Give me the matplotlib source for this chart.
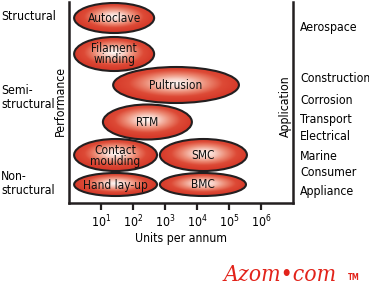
import numpy as np
import matplotlib
matplotlib.use("Agg")
import matplotlib.pyplot as plt
from matplotlib import font_manager
from matplotlib.patches import Ellipse
from matplotlib.colors import LinearSegmentedColormap

# pick a narrow sans if one is installed
narrow = None
for f in font_manager.fontManager.ttflist:
    if ('Narrow' in f.name or 'Condensed' in f.name or 'Narrow' in f.fname
            or 'Condensed' in f.fname) and 'Bold' not in f.fname and 'Oblique' not in f.fname \
            and 'Italic' not in f.fname:
        narrow = f
        break

if narrow is not None:
    base = narrow.name
    plt.rcParams['font.stretch'] = narrow.stretch
else:
    base = 'Liberation Sans'
plt.rcParams['font.family'] = [base, 'DejaVu Sans']
plt.rcParams['mathtext.fontset'] = 'custom'
plt.rcParams['mathtext.rm'] = base
plt.rcParams['mathtext.it'] = base

# processes: range of log10(units per annum), and performance row (screen units, top=0)
processes = ['Autoclave', 'Filament\nwinding', 'Pultrusion', 'RTM',
             'Contact\nmoulding', 'SMC', 'Hand lay-up', 'BMC']
log_lo = [0.16, 0.16, 1.38, 1.06, 0.16, 2.84, 0.16, 2.84]
log_hi = [2.66, 2.66, 5.31, 3.84, 2.75, 5.56, 2.75, 5.53]
row_y = [18, 54, 85, 122, 155, 155, 184.5, 184.5]
row_h = [30, 34, 36, 35, 32, 32, 23, 23]

perf_labels = ['Structural', 'Semi-\nstructural', 'Non-\nstructural']
perf_y = [17, 98, 183]
app_labels = ['Aerospace', 'Construction', 'Corrosion', 'Transport',
              'Electrical', 'Marine', 'Consumer', 'Appliance']
app_y = [28, 78, 101, 119, 137, 156, 173, 191]
decades = [1, 2, 3, 4, 5, 6]

fs = 8.3

fig = plt.figure(figsize=(3.69, 2.99), dpi=100)
W, H = 369, 299
ax = fig.add_axes([69 / W, (H - 203) / H, (293 - 69) / W, (203 - 2) / H])
ax.set_xlim(0, 7)
ax.set_ylim(203, 2)

cmap = LinearSegmentedColormap.from_list(
    'glow', ['#fffaf8', '#f8cfc4', '#ec8a74', '#dd4a36', '#d63a2a'])

for name, lo, hi, cy, h in zip(processes, log_lo, log_hi, row_y, row_h):
    cx = (lo + hi) / 2
    a = (hi - lo) / 2
    b = h / 2
    xs = np.linspace(lo, hi, 200)
    ys = np.linspace(cy - b, cy + b, 80)
    X, Y = np.meshgrid(xs, ys)
    R = np.sqrt(((X - cx) / a) ** 2 + ((Y - cy + 0.1 * b) / b) ** 2)
    img = ax.imshow(np.clip(R, 0, 1), cmap=cmap, vmin=0, vmax=1,
                    extent=[lo, hi, cy + b, cy - b], aspect='auto', zorder=2,
                    interpolation='bilinear')
    e = Ellipse((cx, cy), 2 * a, 2 * b, facecolor='none', edgecolor='#231f20',
                linewidth=1.5, zorder=3)
    ax.add_patch(e)
    img.set_clip_path(e)
    ax.text(cx, cy + 0.5, name, ha='center', va='center', fontsize=fs + 0.3,
            linespacing=0.8, color='#111111', zorder=4)

ax.set_xlim(0, 7)
ax.set_ylim(203, 2)

ax.spines['top'].set_visible(False)
for s in ['left', 'right', 'bottom']:
    ax.spines[s].set_linewidth(1.8)
    ax.spines[s].set_color('#231f20')
ax.set_yticks([])
ax.set_xticks(decades)
ax.set_xticklabels([r'$10^{%d}$' % d for d in decades], fontsize=fs + 0.5)
ax.tick_params(axis='x', direction='out', length=5, width=1.6, pad=3, color='#231f20')
ax.set_xlabel('Units per annum', fontsize=fs + 0.5, labelpad=1)

fig.text(60 / W, 1 - 101 / H, 'Performance', rotation=90, ha='center', va='center',
         fontsize=fs + 0.5)
fig.text(285 / W, 1 - 106 / H, 'Application', rotation=90, ha='center', va='center',
         fontsize=fs + 0.5)

for lab, y in zip(perf_labels, perf_y):
    fig.text(1 / W, 1 - y / H, lab, ha='left', va='center', fontsize=fs + 0.5,
             linespacing=1.1)
for lab, y in zip(app_labels, app_y):
    fig.text(300 / W, 1 - y / H, lab, ha='left', va='center', fontsize=fs + 0.5)

fig.text(224 / W, 1 - 275 / H, 'Azom\u2022com', ha='left', va='center',
         fontsize=16.5, color='#e2231a', style='italic', family='DejaVu Serif')
fig.text(348 / W, 1 - 277 / H, 'TM', ha='left', va='center', fontsize=5.5,
         color='#e2231a', weight='bold', family='DejaVu Sans')

fig.savefig('out.png', dpi=100)
